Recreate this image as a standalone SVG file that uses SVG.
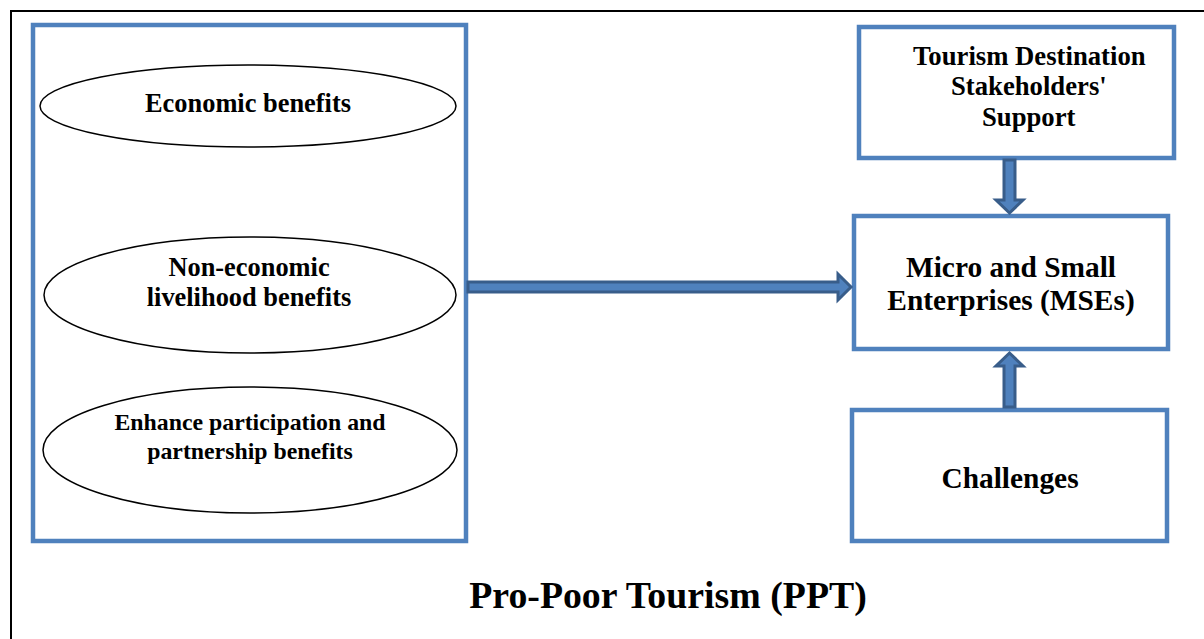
<svg xmlns="http://www.w3.org/2000/svg" width="1204" height="639" viewBox="0 0 1204 639">
<style>
.box{fill:#fff;stroke:#4F81BD;stroke-width:4.5}
.ell{fill:#fff;stroke:#000;stroke-width:1.5}
.arr{fill:#4F81BD;stroke:#385D8A;stroke-width:3;stroke-linejoin:miter}
text{font-family:"Liberation Serif","Times New Roman",serif;font-weight:bold;fill:#000;text-anchor:middle}
.st{text-anchor:start}
.s26{font-size:26.4px}
.s24{font-size:23.8px}
.s27{font-size:26.7px}
.s29{font-size:29.4px}
.s38{font-size:37.8px}
</style>
<rect width="1204" height="639" fill="#fff"/>
<path d="M11 639 V11 H1204" fill="none" stroke="#000" stroke-width="2"/>
<g id="ppt-box">
<rect class="box" x="33" y="25" width="433" height="516"/>
</g>
<g id="economic">
<ellipse class="ell" cx="248" cy="106" rx="208" ry="41"/>
<text class="s26" x="248" y="112">Economic benefits</text>
</g>
<g id="noneconomic">
<ellipse class="ell" cx="250" cy="295" rx="206" ry="58"/>
<text class="s26" x="249" y="276">Non-economic</text>
<text class="s26" x="249" y="306">livelihood benefits</text>
</g>
<g id="participation">
<ellipse class="ell" cx="250" cy="450" rx="207" ry="63"/>
<text class="s24" x="250" y="430">Enhance participation and</text>
<text class="s24" x="250" y="459">partnership benefits</text>
</g>
<g id="stakeholders">
<rect class="box" x="859" y="27" width="315" height="131"/>
<text class="s27 st" x="913" y="65">Tourism Destination</text>
<text class="s27 st" x="951" y="95">Stakeholders'</text>
<text class="s27 st" x="982" y="126">Support</text>
</g>
<g id="mses">
<rect class="box" x="854" y="216" width="314" height="133"/>
<text class="s29" x="1011" y="277">Micro and Small</text>
<text class="s29" x="1011" y="310">Enterprises (MSEs)</text>
</g>
<g id="challenges">
<rect class="box" x="852" y="410" width="315" height="131"/>
<text class="s29" x="1010" y="488">Challenges</text>
</g>
<g id="title">
<text class="s38" x="668" y="608">Pro-Poor Tourism (PPT)</text>
</g>
<g id="connectors">
<polygon class="arr" points="468,282 838,282 838,274 851,287 838,300 838,292 468,292"/>
<polygon class="arr" points="1004,160 1015,160 1015,200 1023,200 1009.5,213 996,200 1004,200"/>
<polygon class="arr" points="1004,407 1015,407 1015,366 1023,366 1009.5,353 996,366 1004,366"/>
</g>
</svg>
